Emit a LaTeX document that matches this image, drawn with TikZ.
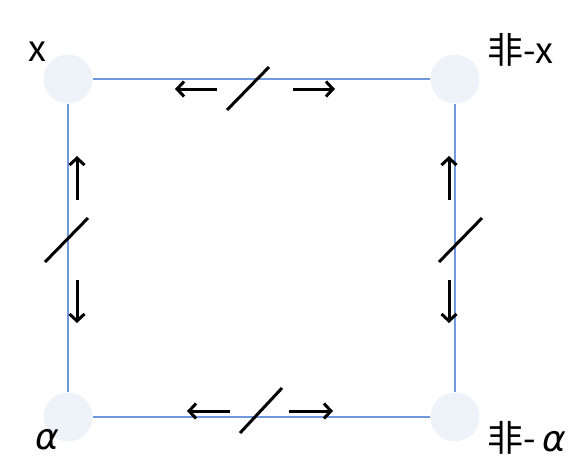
\documentclass[tikz,border=0pt]{standalone}
\usepackage{fontspec}
\setmainfont{Noto Sans CJK SC}
\newfontfamily\alphafont{DejaVu Sans}
\usepackage{tikz}
\usetikzlibrary{arrows.meta}

\definecolor{dotfill}{HTML}{EEF3F9}
\definecolor{edgeblue}{HTML}{7099DE}

\begin{document}
\begin{tikzpicture}[x=1pt,y=-1pt,
  dot/.style={circle,fill=dotfill,minimum size=49pt,inner sep=0pt},
  edge/.style={draw=edgeblue,line width=1.5pt},
  hint/.style={line width=3pt,-{Straight Barb[length=7pt,width=15pt]}},
  cut/.style={line width=3pt},
  lbl/.style={font=\fontsize{36}{40}\selectfont,inner sep=0pt}]
\useasboundingbox (0,0) rectangle (587,475);

\node[dot] (x)  at (68,79)   {};
\node[dot] (nx) at (455,79)  {};
\node[dot] (a)  at (68,417)  {};
\node[dot] (na) at (455,417) {};

\node[lbl] (lx)  at (37,52)  {x};
\node[lbl] (lnx) at (520,50) {非-x};
\node[lbl] (la)  at (47,440) {\alphafont\itshape α};
\node[lbl] (lna) at (527,438) {非-\,\alphafont\itshape α};

\draw[edge] (x) -- (nx);
\draw[edge] (nx) -- (na);
\draw[edge] (a) -- (na);
\draw[edge] (x) -- (a);

% x <-/-> non-x
\draw[hint] (217,89) -- (175,89);
\draw[hint] (293,89) -- (335,89);
\draw[cut] (227,110) -- (269,67);
% alpha <-/-> non-alpha
\draw[hint] (230,411) -- (187,411);
\draw[hint] (289,411) -- (333,411);
\draw[cut] (240,433) -- (282,388);
% x <-/-> alpha
\draw[hint] (77,200) -- (77,156);
\draw[hint] (77,280) -- (77,323);
\draw[cut] (45,262) -- (88,218);
% non-x <-/-> non-alpha
\draw[hint] (449,200) -- (449,156);
\draw[hint] (449,280) -- (449,323);
\draw[cut] (439,262) -- (482,218);
\end{tikzpicture}
\end{document}
